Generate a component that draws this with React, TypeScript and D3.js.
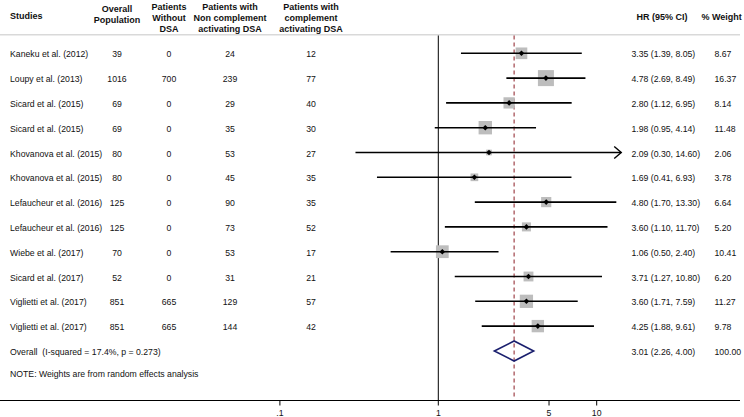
import React from "react";
import * as d3 from "d3";

const studies = [
  "Kaneku et al. (2012)",
  "Loupy et al. (2013)",
  "Sicard et al. (2015)",
  "Sicard et al. (2015)",
  "Khovanova et al. (2015)",
  "Khovanova et al. (2015)",
  "Lefaucheur et al. (2016)",
  "Lefaucheur et al. (2016)",
  "Wiebe et al. (2017)",
  "Sicard et al. (2017)",
  "Viglietti et al. (2017)",
  "Viglietti et al. (2017)",
];
const overallPop = [39, 1016, 69, 69, 80, 80, 125, 125, 70, 52, 851, 851];
const withoutDSA = [0, 700, 0, 0, 0, 0, 0, 0, 0, 0, 665, 665];
const nonComp = [24, 239, 29, 35, 53, 45, 90, 73, 53, 31, 129, 144];
const comp = [12, 77, 40, 30, 27, 35, 35, 52, 17, 21, 57, 42];
const hr = [3.35, 4.78, 2.8, 1.98, 2.09, 1.69, 4.8, 3.6, 1.06, 3.71, 3.6, 4.25];
const lo = [1.39, 2.69, 1.12, 0.95, 0.3, 0.41, 1.7, 1.1, 0.5, 1.27, 1.71, 1.88];
const hi = [8.05, 8.49, 6.95, 4.14, 14.6, 6.93, 13.3, 11.7, 2.4, 10.8, 7.59, 9.61];
const weight = [8.67, 16.37, 8.14, 11.48, 2.06, 3.78, 6.64, 5.2, 10.41, 6.2, 11.27, 9.78];
const pooled = { hr: 3.01, lo: 2.26, hi: 4.0, weight: 100.0 };
const overallLabel = "Overall  (I-squared = 17.4%, p = 0.273)";
const noteLabel = "NOTE: Weights are from random effects analysis";
const xTicks = [0.1, 1, 5, 10];
const xTickLabels = [".1", "1", "5", "10"];

const W = 744;
const H = 417;
const FONT = "'Liberation Sans', Arial, Helvetica, sans-serif";

export default function App() {
  const x = d3.scaleLog().domain([1, 10]).range([438.3, 596.7]);
  const clipMax = 1 / 0.07;
  const clipMin = 0.07;
  const y0 = 53.3;
  const dy = 24.8;
  const rowY = (i: number) => y0 + dy * i;
  const overallY = 351;
  const axisY = 400.5;
  const boxScale = 16 / Math.sqrt(16.37);
  const fmt2 = d3.format(".2f");

  const colCenters = [117, 169, 230, 311];
  const txt = { fontFamily: FONT, fontSize: 8.7, fill: "#111" } as const;
  const hdr = { fontFamily: FONT, fontSize: 9, fontWeight: 700, fill: "#111" } as const;

  const headers: [number, string[]][] = [
    [colCenters[0], ["Overall", "Population"]],
    [colCenters[1], ["Patients", "Without", "DSA"]],
    [colCenters[2], ["Patients with", "Non complement", "activating DSA"]],
    [colCenters[3], ["Patients with", "complement", "activating DSA"]],
  ];

  const xd = x(pooled.hr);

  return (
    <svg
      width={W}
      height={H}
      style={{ position: "absolute", left: 0, top: 0, background: "#fff" }}
    >
      <rect x={0} y={0} width={W} height={H} fill="#fff" />
      {/* header */}
      <text x={10} y={19} {...hdr}>Studies</text>
      {headers.map(([cx, lines], k) => {
        const n = lines.length;
        const top = n === 2 ? 11.5 : 9.5;
        return (
          <text key={k} textAnchor="middle" {...hdr}>
            {lines.map((l, j) => (
              <tspan key={j} x={cx} y={top + j * 11}>{l}</tspan>
            ))}
          </text>
        );
      })}
      <text x={636.5} y={20} {...hdr}>HR (95% CI)</text>
      <text x={701.5} y={20} {...hdr}>% Weight</text>
      <line x1={0} x2={740} y1={34.7} y2={34.7} stroke="#d9d9d9" strokeWidth={1.5} />

      {/* reference lines */}
      <line x1={x(1)} x2={x(1)} y1={35.5} y2={axisY} stroke="#000" strokeWidth={1} />
      <line
        x1={xd}
        x2={xd}
        y1={35.5}
        y2={axisY - 2}
        stroke="#8b1c24"
        strokeWidth={1}
        strokeDasharray="4,3"
      />

      {/* study rows */}
      {studies.map((s, i) => {
        const y = rowY(i);
        const side = boxScale * Math.sqrt(weight[i]);
        const xl = x(Math.max(lo[i], clipMin));
        const clippedHi = hi[i] > clipMax;
        const xh = x(clippedHi ? clipMax : hi[i]);
        const xp = x(hr[i]);
        return (
          <g key={i}>
            <text x={10} y={y + 4} {...txt}>{s}</text>
            <text x={colCenters[0]} y={y + 4} textAnchor="middle" {...txt}>{overallPop[i]}</text>
            <text x={colCenters[1]} y={y + 4} textAnchor="middle" {...txt}>{withoutDSA[i]}</text>
            <text x={colCenters[2]} y={y + 4} textAnchor="middle" {...txt}>{nonComp[i]}</text>
            <text x={colCenters[3]} y={y + 4} textAnchor="middle" {...txt}>{comp[i]}</text>
            <rect x={xp - side / 2} y={y - side / 2} width={side} height={side} fill="#bdbdbd" />
            <line x1={xl} x2={xh} y1={y} y2={y} stroke="#000" strokeWidth={1.6} />
            {clippedHi && (
              <path
                d={`M${xh - 7},${y - 6} L${xh},${y} L${xh - 7},${y + 6}`}
                fill="none"
                stroke="#000"
                strokeWidth={1.4}
              />
            )}
            <path
              d={`M${xp},${y - 2.8} L${xp + 2.8},${y} L${xp},${y + 2.8} L${xp - 2.8},${y} Z`}
              fill="#000"
            />
            <text x={631.5} y={y + 4} {...txt}>
              {`${fmt2(hr[i])} (${fmt2(lo[i])}, ${fmt2(hi[i])})`}
            </text>
            <text x={714.5} y={y + 4} {...txt}>{fmt2(weight[i])}</text>
          </g>
        );
      })}

      {/* overall */}
      <text x={10} y={overallY + 4} {...txt} style={{ whiteSpace: "pre" }}>{overallLabel}</text>
      <path
        d={`M${x(pooled.lo)},${overallY} L${xd},${overallY - 10} L${x(pooled.hi)},${overallY} L${xd},${overallY + 10} Z`}
        fill="none"
        stroke="#1a1f6e"
        strokeWidth={1.6}
      />
      <text x={631.5} y={overallY + 4} {...txt}>
        {`${fmt2(pooled.hr)} (${fmt2(pooled.lo)}, ${fmt2(pooled.hi)})`}
      </text>
      <text x={714.5} y={overallY + 4} {...txt}>{fmt2(pooled.weight)}</text>

      <text x={10} y={377} {...txt}>{noteLabel}</text>

      {/* axis */}
      <line x1={0} x2={740} y1={axisY} y2={axisY} stroke="#000" strokeWidth={1.2} />
      {xTicks.map((t, k) => (
        <g key={k}>
          <line x1={x(t)} x2={x(t)} y1={axisY} y2={axisY + 5} stroke="#000" strokeWidth={1} />
          <text x={x(t)} y={axisY + 15.5} textAnchor="middle" {...txt}>{xTickLabels[k]}</text>
        </g>
      ))}
    </svg>
  );
}
